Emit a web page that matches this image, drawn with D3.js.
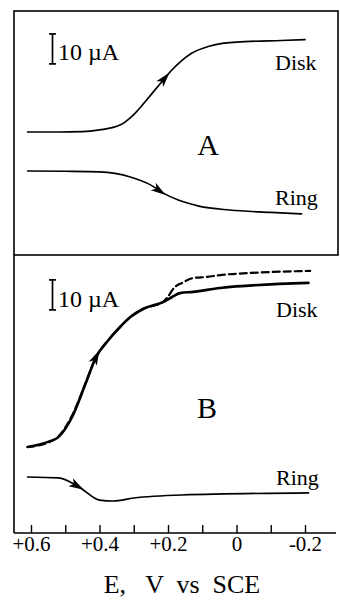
<!DOCTYPE html>
<html>
<head>
<meta charset="utf-8">
<script src="https://cdn.jsdelivr.net/npm/d3@7"></script>
<style>
  html, body { margin: 0; padding: 0; background: #fff; }
  svg { display: block; font-family: "Liberation Serif", "DejaVu Serif", serif; }
  text { white-space: pre; }
</style>
</head>
<body>
<div id="chart"></div>
<script>
// potentials (V vs SCE) and currents (µA, relative)
const diskAE = [0.61, 0.52, 0.45, 0.40, 0.34, 0.30, 0.26, 0.22, 0.19, 0.165, 0.13, 0.08, 0.05, -0.04, -0.13, -0.2];
const diskAI = [0, 0, 0.1, 0.7, 2.3, 5.8, 11, 16.5, 20.5, 23.3, 26.3, 28.6, 29.4, 30.2, 30.5, 30.8];

const ringAE = [0.61, 0.5, 0.4, 0.31, 0.25, 0.215, 0.17, 0.11, 0.02, -0.1, -0.19];
const ringAI = [-13, -13.1, -13.3, -15, -17.7, -20.3, -22.7, -24.7, -26, -26.8, -27.3];

const diskBE = [0.61, 0.55, 0.52, 0.48, 0.44, 0.41, 0.375, 0.34, 0.31, 0.273, 0.215, 0.188, 0.165, 0.127, 0.048, -0.21];
const diskBI = [0, 1.7, 3.3, 10, 21.3, 30, 35.5, 40, 43.3, 46, 48.3, 50, 51.3, 51.7, 53, 54.7];

const dashBE = [0.61, 0.55, 0.52, 0.48, 0.44, 0.41, 0.375, 0.34, 0.31, 0.273, 0.215, 0.203, 0.18, 0.159, 0.127, 0.086, 0.048, -0.04, -0.215];
const dashBI = [0, 1.5, 3.5, 10.5, 21.5, 30, 35.5, 40, 43.3, 46, 48.3, 49.7, 53.3, 54.7, 56.3, 56.7, 57.3, 58, 58.7];

const ringBE = [0.61, 0.52, 0.46, 0.40, 0.36, 0.30, 0.16, -0.21];
const ringBI = [-10, -10.3, -13.3, -17.7, -18, -17, -16, -15.3];

const tickValues = [0.6, 0.5, 0.4, 0.3, 0.2, 0.1, 0, -0.1, -0.2];
const tickLabels = { '0.6': '+0.6', '0.4': '+0.4', '0.2': '+0.2', '0': '0', '-0.2': '-0.2' };

// where the arrowheads sit (V)
const arrowA = { disk: 0.21, ring: 0.225 };
const arrowB = { disk: 0.41, ring: 0.465 };

const W = 340, H = 604;

const svg = d3.select('#chart').append('svg')
  .attr('width', W)
  .attr('height', H);

const x = d3.scaleLinear().domain([0.6, -0.2]).range([31, 305]);
const yA = d3.scaleLinear().domain([-40, 40]).range([252, 12]);
const yB = d3.scaleLinear().domain([-40, 40]).range([567, 327]);

const zip = (es, is) => es.map((e, i) => ({ e: e, i: is[i] }));

function drawCurve(es, is, y, width, dash) {
  const line = d3.line()
    .x(d => x(d.e))
    .y(d => y(d.i))
    .curve(d3.curveMonotoneX);
  return svg.append('path')
    .datum(zip(es, is))
    .attr('fill', 'none')
    .attr('stroke', '#000')
    .attr('stroke-width', width)
    .attr('stroke-linecap', 'round')
    .attr('stroke-dasharray', dash || null)
    .attr('d', line);
}

// arrowhead following the path direction at potential e
function arrowAt(path, e) {
  const node = path.node();
  const total = node.getTotalLength();
  const px = x(e);
  let lo = 0, hi = total;
  for (let k = 0; k < 40; k++) {
    const mid = (lo + hi) / 2;
    if (node.getPointAtLength(mid).x < px) lo = mid; else hi = mid;
  }
  const p = node.getPointAtLength(lo);
  const a = node.getPointAtLength(Math.max(0, lo - 3));
  const b = node.getPointAtLength(Math.min(total, lo + 3));
  let dx = b.x - a.x, dy = b.y - a.y;
  const len = Math.hypot(dx, dy);
  dx /= len; dy /= len;
  const L = 15, Wd = 4.5;
  const tip = [p.x + dx * L / 2, p.y + dy * L / 2];
  const base = [p.x - dx * L / 2, p.y - dy * L / 2];
  const pts = [
    tip,
    [base[0] - dy * Wd, base[1] + dx * Wd],
    [p.x - dx * L * 0.25, p.y - dy * L * 0.25],
    [base[0] + dy * Wd, base[1] - dx * Wd]
  ];
  svg.append('path')
    .attr('d', 'M' + pts.map(q => q.join(',')).join('L') + 'Z')
    .attr('fill', '#000');
}

// frames
svg.append('rect')
  .attr('x', 14).attr('y', 11)
  .attr('width', 324).attr('height', 244)
  .attr('fill', 'none').attr('stroke', '#000').attr('stroke-width', 1.6);
svg.append('line')
  .attr('x1', 14).attr('x2', 14).attr('y1', 255).attr('y2', 533)
  .attr('stroke', '#000').attr('stroke-width', 1.6);

// bottom axis, ticks pointing inward
const axis = svg.append('g')
  .attr('transform', 'translate(0,533)')
  .call(d3.axisBottom(x)
    .tickValues(tickValues)
    .tickSize(-8)
    .tickPadding(3)
    .tickFormat(d => tickLabels[String(+d.toFixed(1))] || ''))
  .attr('font-family', '"Liberation Serif", serif')
  .attr('font-size', 21);
axis.select('.domain').remove();
axis.append('line')
  .attr('x1', 14).attr('x2', 336)
  .attr('stroke', '#000').attr('stroke-width', 1.6);
axis.selectAll('.tick line').attr('stroke', '#000').attr('stroke-width', 1.4);
axis.selectAll('.tick text').attr('fill', '#000');

svg.append('text')
  .attr('x', 182).attr('y', 593)
  .attr('text-anchor', 'middle')
  .style('font-size', '26px')
  .text('E,   V  vs  SCE');

// panel A
const diskA = drawCurve(diskAE, diskAI, yA, 1.7);
const ringA = drawCurve(ringAE, ringAI, yA, 1.6);
arrowAt(diskA, arrowA.disk);
arrowAt(ringA, arrowA.ring);

// panel B
drawCurve(dashBE, dashBI, yB, 2.2, '7,4');
const diskB = drawCurve(diskBE, diskBI, yB, 2.6);
const ringB = drawCurve(ringBE, ringBI, yB, 1.7);
arrowAt(diskB, arrowB.disk);
arrowAt(ringB, arrowB.ring);

// 10 µA scale bars
function scaleBar(y, top, ty) {
  const y0 = y(top), y1 = y(top - 10);
  const g = svg.append('g').attr('stroke', '#000').attr('stroke-width', 1.7);
  g.append('line').attr('x1', 52.5).attr('x2', 52.5).attr('y1', y0).attr('y2', y1);
  g.append('line').attr('x1', 49).attr('x2', 56).attr('y1', y0).attr('y2', y0);
  g.append('line').attr('x1', 49).attr('x2', 56).attr('y1', y1).attr('y2', y1);
  svg.append('text').attr('x', 58).attr('y', ty)
    .style('font-size', '24px')
    .text('10 µA');
}
scaleBar(yA, 32.7, 60);
scaleBar(yB, 55.7, 307);

// labels
const labels = [
  { t: 'Disk', x: 275, y: 70, s: 22, a: 'start' },
  { t: 'Ring', x: 275, y: 205, s: 22, a: 'start' },
  { t: 'A', x: 208, y: 155, s: 30, a: 'middle' },
  { t: 'Disk', x: 276, y: 317, s: 22, a: 'start' },
  { t: 'Ring', x: 276, y: 485, s: 22, a: 'start' },
  { t: 'B', x: 207, y: 418, s: 30, a: 'middle' }
];
svg.selectAll('text.lbl')
  .data(labels)
  .enter().append('text')
  .attr('class', 'lbl')
  .attr('x', d => d.x).attr('y', d => d.y)
  .attr('text-anchor', d => d.a)
  .style('font-size', d => d.s + 'px')
  .text(d => d.t);
</script>
</body>
</html>
